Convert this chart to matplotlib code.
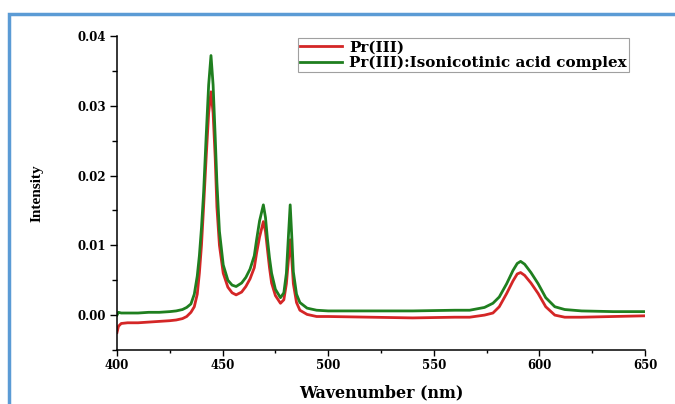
import matplotlib
matplotlib.use("Agg")
import matplotlib.pyplot as plt
from matplotlib.patches import Rectangle
from matplotlib.ticker import MultipleLocator

# Wavelength sample points (nm)
wl = [400, 400.7, 402, 405, 410, 415, 420, 425, 428, 431,
      433, 435, 436.6, 438, 439, 440, 441, 442.2, 443.4, 444.5,
      445.5, 446.5, 447.3, 448.5, 450.3, 452.5, 454.5, 456.4, 459, 461,
      463, 465, 466.1, 467.5, 469.3, 470.3, 471.2, 472.2, 473.2, 475,
      477.4, 479, 480.2, 481.2, 482.0, 482.8, 483.5, 485, 486.6, 490,
      494.5, 500, 520, 540, 560, 567, 574, 578, 581, 584.5,
      587.5, 589.5, 591.1, 593, 596, 599.4, 603, 607.3, 612, 620,
      635, 650]

pr = [-0.0025, -0.0016, -0.0012, -0.0011, -0.0011, -0.0010, -0.0009, -0.0008, -0.0007, -0.0005,
      -0.0002, 0.0004, 0.0012, 0.0030, 0.0060, 0.0100, 0.0155, 0.0225, 0.0290, 0.0320,
      0.0290, 0.0225, 0.0155, 0.0100, 0.0060, 0.0040, 0.0032, 0.0029, 0.0033, 0.0041,
      0.0052, 0.0068, 0.0089, 0.0112, 0.0134, 0.0120, 0.0095, 0.0068, 0.0046, 0.0028,
      0.0017, 0.0022, 0.0045, 0.0080, 0.0108, 0.0078, 0.0045, 0.0018, 0.0007, 0.0001,
      -0.0002, -0.0002, -0.0003, -0.0004, -0.0003, -0.0003, 0.0000, 0.0003, 0.0012, 0.0031,
      0.0049, 0.0059, 0.0061, 0.0057, 0.0046, 0.0031, 0.0012, 0.0000, -0.0003, -0.0003,
      -0.0002, -0.0001]

complex_ = [0.0000, 0.0004, 0.0003, 0.0003, 0.0003, 0.0004, 0.0004, 0.0005, 0.0006, 0.0008,
            0.0011, 0.0016, 0.0030, 0.0056, 0.0085, 0.0125, 0.0175, 0.0255, 0.0330, 0.0372,
            0.0330, 0.0255, 0.0190, 0.0120, 0.0072, 0.0050, 0.0043, 0.0041, 0.0046, 0.0054,
            0.0066, 0.0085, 0.0108, 0.0135, 0.0158, 0.0140, 0.0110, 0.0082, 0.0060, 0.0037,
            0.0025, 0.0032, 0.0060, 0.0115, 0.0158, 0.0110, 0.0062, 0.0030, 0.0018, 0.0010,
            0.0007, 0.0006, 0.0006, 0.0006, 0.0007, 0.0007, 0.0011, 0.0017, 0.0026, 0.0045,
            0.0064, 0.0074, 0.0077, 0.0073, 0.0061, 0.0045, 0.0025, 0.0012, 0.0008, 0.0006,
            0.0005, 0.0005]

labels = ["Pr(III)", "Pr(III):Isonicotinic acid complex"]
x_ticks = [400, 450, 500, 550, 600, 650]
y_ticks = [0.00, 0.01, 0.02, 0.03, 0.04]

serif_wide = ['DejaVu Serif']
serif_narrow = ['Liberation Serif', 'DejaVu Serif']
plt.rcParams['font.family'] = serif_wide
plt.rcParams['font.weight'] = 'bold'

fig = plt.figure(figsize=(6.75, 4.04), dpi=100)
ax = fig.add_axes([117/675, 1-350/404, (645-117)/675, (350-36)/404])

ax.plot(wl, pr, color='#d42626', lw=2.0, label=labels[0])
ax.plot(wl, complex_, color='#1f7f1f', lw=2.0, label=labels[1])

ax.set_xlim(400, 650)
ax.set_ylim(-0.005, 0.04)
ax.set_xticks(x_ticks)
ax.set_yticks(y_ticks)
ax.set_yticklabels([f"{v:.2f}" for v in y_ticks])
ax.xaxis.set_minor_locator(MultipleLocator(25))
ax.yaxis.set_minor_locator(MultipleLocator(0.005))
ax.tick_params(which='both', direction='out', width=1.0, labelsize=8.5)
ax.tick_params(axis='y', which='major', length=5, pad=3)
ax.tick_params(axis='y', which='minor', length=3.5)
ax.tick_params(axis='x', which='major', length=4, pad=2.5)
ax.tick_params(axis='x', which='minor', length=2.5)
for lab in ax.get_xticklabels() + ax.get_yticklabels():
    lab.set_fontweight('bold')
for s in ['left', 'bottom']:
    ax.spines[s].set_linewidth(1.1)

ax.spines['top'].set_visible(False)
ax.spines['right'].set_visible(False)

ax.set_xlabel("Wavenumber (nm)", fontsize=11.4, fontweight='bold')
ax.xaxis.set_label_coords(0.5, (350-384)/314)
ax.set_ylabel("Intensity", fontsize=11, fontweight='bold', family=serif_narrow)
ax.yaxis.set_label_coords((44-117)/528, 0.5)

leg = ax.legend(loc='upper right', bbox_to_anchor=(629/675, 1-38/404),
                bbox_transform=fig.transFigure, fancybox=False, framealpha=1,
                edgecolor='#a0a0a0', prop={'weight': 'bold', 'size': 10.9, 'family': serif_wide},
                handlelength=2.8, handletextpad=0.45, borderpad=0.15,
                labelspacing=0.1, borderaxespad=0)
leg.get_frame().set_linewidth(0.8)

frame = Rectangle((9/675, -0.05), 1.1, 1 - 14/404 + 0.05, transform=fig.transFigure,
                  fill=False, edgecolor='#5b9bd5', linewidth=2.5, clip_on=False)
fig.patches.append(frame)

fig.savefig("out.png", dpi=100)
